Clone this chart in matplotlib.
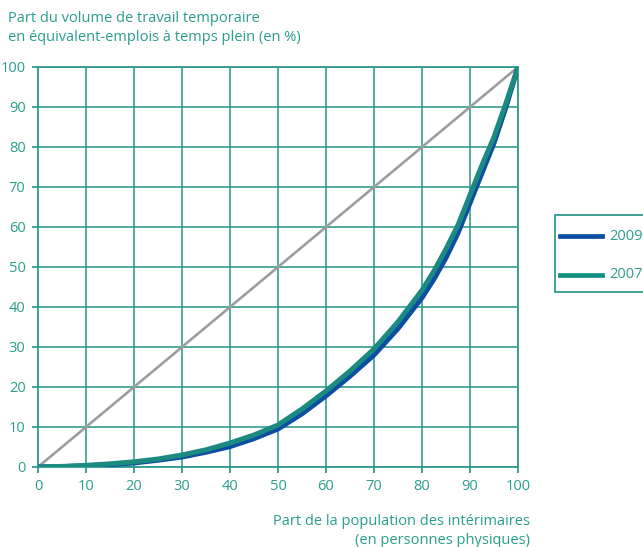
import matplotlib
matplotlib.use("Agg")
import matplotlib.pyplot as plt
from matplotlib.lines import Line2D
from matplotlib.patches import Rectangle

plt.rcParams['font.family'] = ['Open Sans', 'DejaVu Sans']

x_share = [0, 5, 10, 15, 20, 25, 30, 35, 40, 45, 50, 55, 60, 65, 70, 75, 80, 82.5, 85, 87.5, 90, 92.5, 95, 97.5, 100]
y_2009 = [0, 0.1, 0.3, 0.6, 1.0, 1.7, 2.5, 3.7, 5.1, 7.1, 9.5, 13.3, 17.8, 22.7, 28.0, 34.6, 42.3, 47.0, 52.3, 58.5, 66.0, 73.5, 81.0, 90.0, 100]
y_2007 = [0, 0.15, 0.4, 0.8, 1.3, 2.0, 3.0, 4.3, 6.0, 8.0, 10.5, 14.5, 19.0, 24.0, 29.5, 36.3, 44.2, 49.0, 54.5, 60.5, 68.0, 75.5, 82.5, 91.0, 100]
ticks = [0, 10, 20, 30, 40, 50, 60, 70, 80, 90, 100]
series_labels = ["2009", "2007"]

TEAL = "#2a9d8f"
GRID = "#2f9b8c"
BLUE = "#0b4ea2"
GREEN = "#1b8a80"
GREEN_LEG = "#0f9080"
GRAY = "#9a9a9a"

W, H = 643, 547
fig = plt.figure(figsize=(W / 100, H / 100), dpi=100)
ax = fig.add_axes([38 / W, 1 - 467 / H, (518 - 38) / W, (467 - 67) / H])

ax.set_xlim(0, 100)
ax.set_ylim(0, 100)
ax.set_xticks(ticks)
ax.set_yticks(ticks)
ax.grid(True, color=GRID, linewidth=1.3, alpha=0.9)
ax.set_axisbelow(True)
for s in ax.spines.values():
    s.set_color(GRID)
    s.set_linewidth(1.3)
ax.tick_params(axis='both', colors=GRID, labelcolor=TEAL, labelsize=10.5,
               length=4, width=1.3, direction='out', pad=5)

ax.plot([0, 100], [0, 100], color=GRAY, linewidth=1.8, zorder=3)
ax.plot(x_share, y_2009, color=BLUE, linewidth=3.6, zorder=4,
        solid_capstyle='round', solid_joinstyle='round')
ax.plot(x_share, y_2007, color=GREEN, linewidth=3.6, zorder=5,
        solid_capstyle='round', solid_joinstyle='round')

fig.text(8 / W, 1 - 28 / H, "Part du volume de travail temporaire\nen équivalent-emplois à temps plein (en %)",
         color=TEAL, fontsize=10.5, ha='left', va='center', linespacing=1.45)
fig.text(530 / W, 1 - 531 / H, "Part de la population des intérimaires\n(en personnes physiques)",
         color=TEAL, fontsize=10.5, ha='right', va='center', linespacing=1.45, multialignment='right')

# legend (partly cut by the right edge, as in the reference)
fig.add_artist(Rectangle((555 / W, 1 - 292 / H), (680 - 555) / W, (292 - 215) / H,
                         transform=fig.transFigure, facecolor='white', edgecolor=GRID,
                         linewidth=1.3))
leg_colors = [BLUE, GREEN_LEG]
leg_y = [236, 275]
for lab, col, yy in zip(series_labels, leg_colors, leg_y):
    fig.add_artist(Line2D([560 / W, 602 / W], [1 - yy / H, 1 - yy / H],
                          transform=fig.transFigure, color=col, linewidth=3.4))
    fig.text(609 / W, 1 - yy / H, lab, color=TEAL, fontsize=10.5, ha='left', va='center')

fig.savefig("out.png", dpi=100)
